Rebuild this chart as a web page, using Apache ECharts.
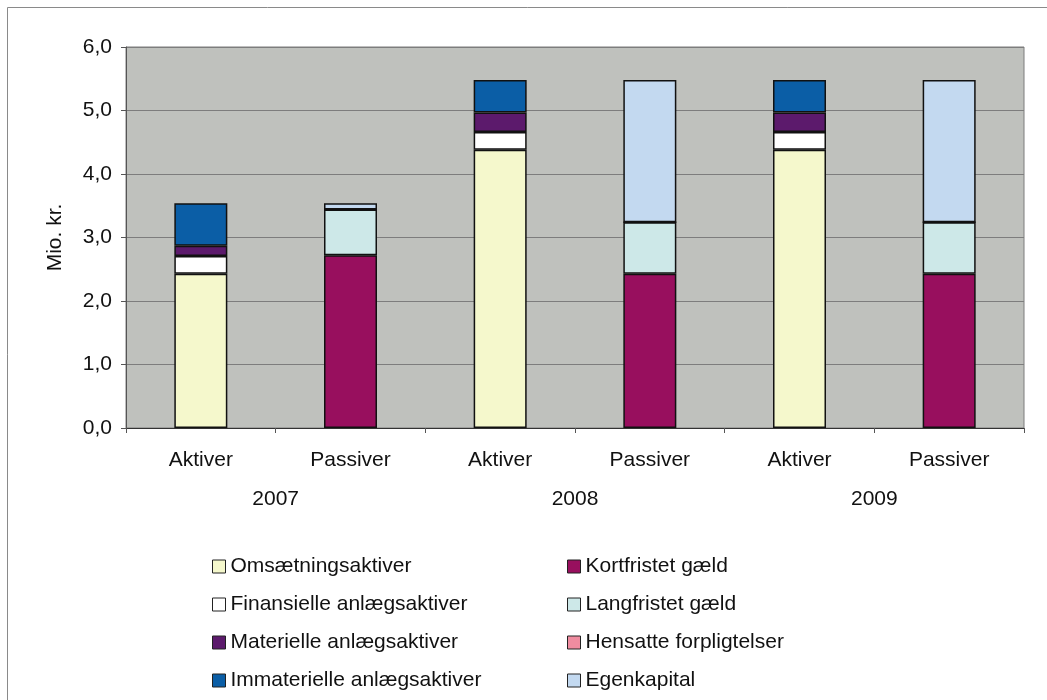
<!DOCTYPE html>
<html>
<head>
<meta charset="utf-8">
<script src="https://cdn.jsdelivr.net/npm/echarts@6/dist/echarts.min.js"></script>
<style>
  html, body { margin: 0; padding: 0; background: #fff; }
  #chart { width: 1047px; height: 700px; }
</style>
</head>
<body>
<div id="chart"></div>
<script>
// categories: Aktiver/Passiver for each year
const categories = ['Aktiver', 'Passiver', 'Aktiver', 'Passiver', 'Aktiver', 'Passiver']
const years = ['2007', '2008', '2009']

// Mio. kr., '-' where the series does not belong to that bar
const omsaetning   = [2.43, '-', 4.38, '-', 4.38, '-']
const finansielle  = [0.28, '-', 0.28, '-', 0.28, '-']
const materielle   = [0.16, '-', 0.31, '-', 0.31, '-']
const immaterielle = [0.67, '-', 0.51, '-', 0.51, '-']
const kortfristet  = ['-', 2.72, '-', 2.43, '-', 2.43]
const langfristet  = ['-', 0.72, '-', 0.81, '-', 0.81]
const hensatte     = ['-', 0, '-', 0, '-', 0]
const egenkapital  = ['-', 0.10, '-', 2.24, '-', 2.24]

const seriesDefs = [
  { name: 'Omsætningsaktiver',          data: omsaetning,   color: '#F5F8CC' },
  { name: 'Finansielle anlægsaktiver',  data: finansielle,  color: '#FFFFFF' },
  { name: 'Materielle anlægsaktiver',   data: materielle,   color: '#5C1A6C' },
  { name: 'Immaterielle anlægsaktiver', data: immaterielle, color: '#0B5EA6' },
  { name: 'Kortfristet gæld',           data: kortfristet,  color: '#980F5E' },
  { name: 'Langfristet gæld',           data: langfristet,  color: '#CDE8E8' },
  { name: 'Hensatte forpligtelser',     data: hensatte,     color: '#F08CA0' },
  { name: 'Egenkapital',                data: egenkapital,  color: '#C3D9F0' },
]

const font = 'Liberation Sans, Arial, sans-serif'
const chart = echarts.init(document.getElementById('chart'))

const legendBase = {
  orient: 'vertical',
  top: 556,
  height: 144,
  icon: 'rect',
  itemWidth: 13, itemHeight: 13,
  itemGap: 17,
  padding: 0,
  textStyle: { fontSize: 21, color: '#111', fontFamily: font },
  itemStyle: { borderColor: '#222', borderWidth: 1 },
}

chart.setOption({
  animation: false,
  textStyle: { fontFamily: font },
  graphic: [{
    type: 'rect',
    shape: { x: 7.5, y: 7.5, width: 1100, height: 800 },
    style: { fill: 'none', stroke: '#8a8a8a', lineWidth: 1 },
    silent: true,
  }],
  grid: {
    left: 126, right: 23, top: 47, bottom: 272,
    show: true,
    backgroundColor: '#BFC1BD',
    borderColor: '#7d7d7d',
    borderWidth: 1,
  },
  legend: [
    { ...legendBase, left: 212, data: seriesDefs.slice(0, 4).map(s => s.name) },
    { ...legendBase, left: 567, data: seriesDefs.slice(4).map(s => s.name) },
  ],
  xAxis: [
    {
      type: 'category',
      data: categories,
      position: 'bottom',
      axisLine: { lineStyle: { color: '#333', width: 1 } },
      axisTick: { show: true, interval: 0, length: 5, lineStyle: { color: '#555' } },
      axisLabel: { margin: 22, fontSize: 21, color: '#111', fontFamily: font, interval: 0 },
    },
    {
      type: 'category',
      data: years,
      position: 'bottom',
      axisLine: { show: false },
      axisTick: { show: false },
      axisLabel: { margin: 61, fontSize: 21, color: '#111', fontFamily: font },
    },
  ],
  yAxis: {
    type: 'value',
    min: 0, max: 6, interval: 1,
    name: 'Mio. kr.',
    nameLocation: 'middle',
    nameGap: 60,
    nameRotate: 90,
    nameTextStyle: { fontSize: 21, color: '#111', fontFamily: font },
    axisLine: { show: true, lineStyle: { color: '#555' } },
    axisTick: { show: true, length: 5, lineStyle: { color: '#555' } },
    axisLabel: {
      margin: 14, fontSize: 21, color: '#111', fontFamily: font,
      formatter: v => v.toFixed(1).replace('.', ','),
    },
    splitLine: { lineStyle: { color: '#7d7d7d', width: 1 } },
  },
  series: seriesDefs.map(s => ({
    name: s.name,
    type: 'bar',
    stack: 'total',
    xAxisIndex: 0,
    barWidth: 53,
    data: s.data,
    itemStyle: { color: s.color, borderColor: '#111', borderWidth: 1.5 },
  })),
})
</script>
</body>
</html>
